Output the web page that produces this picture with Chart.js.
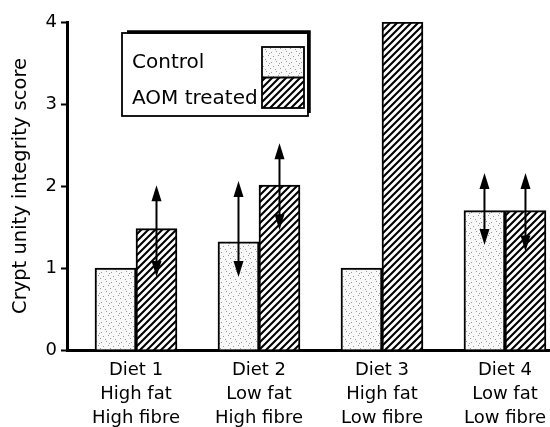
<!DOCTYPE html>
<html>
<head>
<meta charset="utf-8">
<script src="https://cdn.jsdelivr.net/npm/chart.js@4.4.1/dist/chart.umd.min.js"></script>
<style>
  html, body { margin: 0; padding: 0; background: #fff; }
  #wrap { width: 550px; height: 427px; }
</style>
</head>
<body>
<div id="wrap"><canvas id="chart" width="550" height="427"></canvas></div>
<script>
// ==================== DATA ====================
const diets = [
    ['Diet 1', 'High fat', 'High fibre'],
    ['Diet 2', 'Low fat', 'High fibre'],
    ['Diet 3', 'High fat', 'Low fibre'],
    ['Diet 4', 'Low fat', 'Low fibre']
];
const seriesNames = ['Control', 'AOM treated'];
const controlScores = [1.0, 1.32, 1.0, 1.70];
const aomScores = [1.48, 2.01, 4.0, 1.70];
// arrow ranges [low, high], null where none drawn
const controlRanges = [null, [0.89, 2.06], null, [1.28, 2.16]];
const aomRanges = [[0.89, 2.01], [1.46, 2.52], null, [1.20, 2.16]];
const yTicks = [0, 1, 2, 3, 4];

const FONT = "'DejaVu Sans', sans-serif";

// ==================== FILL PATTERNS ====================
function makeHatch() {
    const s = 7;
    const c = document.createElement('canvas');
    c.width = s; c.height = s;
    const g = c.getContext('2d');
    g.fillStyle = '#fff';
    g.fillRect(0, 0, s, s);
    g.strokeStyle = '#000';
    g.lineWidth = 2.1;
    g.beginPath();
    g.moveTo(-1, s + 1); g.lineTo(s + 1, -1);
    g.moveTo(-2, 2); g.lineTo(2, -2);
    g.moveTo(s - 2, s + 2); g.lineTo(s + 2, s - 2);
    g.stroke();
    return g.createPattern(c, 'repeat');
}

function makeStipple() {
    const s = 10;
    const c = document.createElement('canvas');
    c.width = s; c.height = s;
    const g = c.getContext('2d');
    g.fillStyle = '#f8f8f8';
    g.fillRect(0, 0, s, s);
    g.fillStyle = '#999';
    [[1, 2], [6, 1], [3, 6], [8, 5], [5, 9], [0, 8], [9, 3]].forEach(p => g.fillRect(p[0], p[1], 1, 1));
    return g.createPattern(c, 'repeat');
}

const stipple = makeStipple();
const hatch = makeHatch();

// ==================== PLUGINS ====================
// double-headed arrows on top of the bars
const arrowPlugin = {
    id: 'arrows',
    afterDatasetsDraw(chart) {
        const ctx = chart.ctx;
        const y = chart.scales.y;
        const ranges = [controlRanges, aomRanges];
        const headLen = 16, headHalf = 5;
        ctx.save();
        ctx.strokeStyle = '#000';
        ctx.fillStyle = '#000';
        ctx.lineWidth = 2;
        ranges.forEach((list, di) => {
            const meta = chart.getDatasetMeta(di);
            list.forEach((r, i) => {
                if (!r) return;
                const x = meta.data[i].x;
                const lo = y.getPixelForValue(r[0]);
                const hi = y.getPixelForValue(r[1]);
                ctx.beginPath();
                ctx.moveTo(x, hi + headLen - 2);
                ctx.lineTo(x, lo - headLen + 2);
                ctx.stroke();
                ctx.beginPath();
                ctx.moveTo(x, hi);
                ctx.lineTo(x - headHalf, hi + headLen);
                ctx.lineTo(x + headHalf, hi + headLen);
                ctx.closePath();
                ctx.fill();
                ctx.beginPath();
                ctx.moveTo(x, lo);
                ctx.lineTo(x - headHalf, lo - headLen);
                ctx.lineTo(x + headHalf, lo - headLen);
                ctx.closePath();
                ctx.fill();
            });
        });
        ctx.restore();
    }
};

// boxed legend with text on the left and swatches on the right
const boxLegend = {
    id: 'boxLegend',
    afterDraw(chart) {
        const ctx = chart.ctx;
        const a = chart.chartArea;
        const bx = a.left + 55, by = a.top + 11, bw = 186, bh = 83;
        ctx.save();
        ctx.strokeStyle = '#000';
        ctx.lineWidth = 1.8;
        ctx.strokeRect(bx, by, bw, bh);
        // heavy edge top and right
        ctx.lineWidth = 3.5;
        ctx.beginPath();
        ctx.moveTo(bx + 5, by - 1);
        ctx.lineTo(bx + bw + 1, by - 1);
        ctx.lineTo(bx + bw + 1, by + bh - 3);
        ctx.stroke();

        const sx = bx + 140, sw = 42, sh = 30.5;
        const sy = by + 14;
        const fills = [stipple, hatch];
        fills.forEach((f, i) => {
            ctx.fillStyle = f;
            ctx.fillRect(sx, sy + i * sh, sw, sh);
        });
        ctx.lineWidth = 1.8;
        ctx.strokeRect(sx, sy, sw, sh * 2);
        ctx.beginPath();
        ctx.moveTo(sx, sy + sh);
        ctx.lineTo(sx + sw, sy + sh);
        ctx.stroke();

        ctx.fillStyle = '#000';
        ctx.font = '20px ' + FONT;
        ctx.textBaseline = 'alphabetic';
        ctx.fillText(seriesNames[0], bx + 10, by + 35);
        ctx.fillText(seriesNames[1], bx + 10, by + 71);
        ctx.restore();
    }
};

// ==================== CHART ====================
Chart.defaults.font.family = FONT;
Chart.defaults.color = '#000';

const positions = diets.map((d, i) => i + 1);

new Chart(document.getElementById('chart').getContext('2d'), {
    type: 'bar',
    data: {
        datasets: [
            {
                label: seriesNames[0],
                data: positions.map((p, i) => ({ x: p, y: controlScores[i] })),
                backgroundColor: stipple,
                borderColor: '#000',
                borderWidth: 2,
                barThickness: 41
            },
            {
                label: seriesNames[1],
                data: positions.map((p, i) => ({ x: p, y: aomScores[i] })),
                backgroundColor: hatch,
                borderColor: '#000',
                borderWidth: 2,
                barThickness: 41
            }
        ]
    },
    options: {
        responsive: false,
        devicePixelRatio: 1,
        animation: false,
        layout: { padding: { top: 22, right: 1, left: 0, bottom: 0 } },
        plugins: {
            legend: { display: false },
            tooltip: { enabled: false }
        },
        scales: {
            x: {
                type: 'linear',
                offset: false,
                min: 0.439,
                max: 4.358,
                grid: { display: false, offset: false },
                border: { display: true, color: '#000', width: 3 },
                afterBuildTicks: (scale) => { scale.ticks = positions.map(v => ({ value: v })); },
                afterFit: (scale) => { scale.height = 77; },
                ticks: {
                    autoSkip: false,
                    maxRotation: 0,
                    padding: 0,
                    font: { size: 18, lineHeight: 1.33 },
                    callback: (v) => diets[Math.round(v) - 1] || ''
                }
            },
            y: {
                min: 0,
                max: 4,
                afterBuildTicks: (scale) => { scale.ticks = yTicks.map(v => ({ value: v })); },
                afterFit: (scale) => { scale.width = 67; },
                grid: {
                    drawOnChartArea: false,
                    drawTicks: true,
                    tickLength: 6,
                    tickWidth: 2,
                    tickColor: '#000'
                },
                border: { display: true, color: '#000', width: 3 },
                ticks: {
                    padding: 4,
                    font: { size: 18 }
                },
                title: {
                    display: true,
                    text: 'Crypt unity integrity score',
                    font: { size: 19.5 },
                    padding: { top: 9, bottom: 0 }
                }
            }
        }
    },
    plugins: [arrowPlugin, boxLegend]
});
</script>
</body>
</html>
